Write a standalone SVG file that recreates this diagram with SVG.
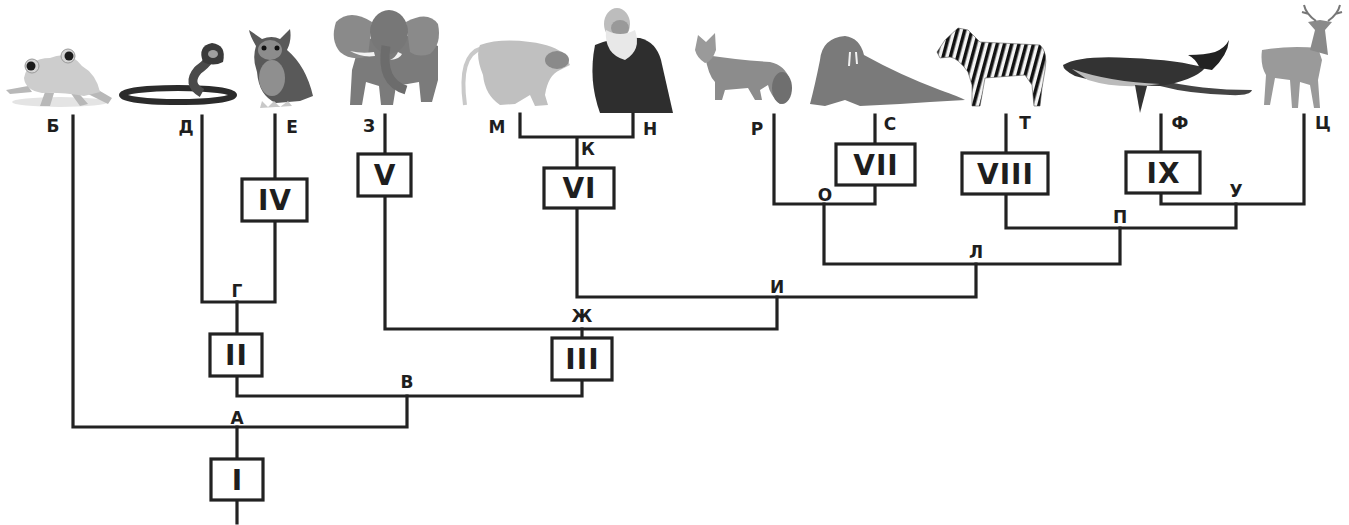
<svg xmlns="http://www.w3.org/2000/svg" width="1349" height="525" viewBox="0 0 1349 525">
<defs>
<style>
.ln{fill:none;stroke:#222;stroke-width:3.2;stroke-linecap:square;stroke-linejoin:miter}
.bx{fill:#fff;stroke:#222;stroke-width:3.2}
.num{font-family:"DejaVu Sans","Liberation Sans",sans-serif;font-weight:bold;font-size:28px;letter-spacing:1px;fill:#1e1e1e;text-anchor:middle}
.lbl{font-family:"DejaVu Sans","Liberation Sans",sans-serif;font-weight:bold;font-size:17px;fill:#1e1e1e;text-anchor:middle}
</style>
<pattern id="stripes" width="7" height="10" patternUnits="userSpaceOnUse" patternTransform="rotate(15)">
<rect width="7" height="10" fill="#f4f4f4"/>
<rect width="3.5" height="10" fill="#111"/>
</pattern>
</defs>
<rect width="1349" height="525" fill="#fff"/>

<g id="animals">
<g id="frog">
<ellipse cx="60" cy="102" rx="48" ry="5" fill="#e4e4e4"/>
<path d="M28 86 L6 90 L10 94 L32 92 Z M88 84 L112 98 L108 104 L84 92 Z M45 92 L40 106 L50 106 L54 93 Z M70 92 L80 106 L88 104 L76 90 Z" fill="#b8b8b8"/>
<path d="M24 78 Q28 58 50 58 Q70 50 82 66 Q96 74 100 92 L84 96 Q60 92 42 93 Q25 90 24 78 Z" fill="#cdcdcd"/>
<circle cx="32" cy="66" r="7" fill="#d6d6d6" stroke="#999" stroke-width="1"/>
<circle cx="31" cy="66" r="4.5" fill="#1c1c1c"/>
<circle cx="68" cy="56" r="7" fill="#d6d6d6" stroke="#999" stroke-width="1"/>
<circle cx="69" cy="56" r="4.5" fill="#1c1c1c"/>
</g>
<g id="snake">
<ellipse cx="178" cy="95" rx="56" ry="7" fill="none" stroke="#2b2b2b" stroke-width="6"/>
<path d="M202 93 Q186 84 198 70 Q212 60 211 52" fill="none" stroke="#4a4a4a" stroke-width="9"/>
<path d="M203 62 Q197 46 212 43 Q227 45 223 62 Q213 67 203 62 Z" fill="#3a3a3a"/>
<ellipse cx="213" cy="54" rx="5" ry="4" fill="#a0a0a0"/>
</g>
<g id="owl">
<path d="M256 46 Q250 36 249 30 L262 39 Q272 35 280 39 L290 29 Q292 40 287 50 Q306 66 313 96 L300 101 L276 103 Q259 96 257 72 Q252 58 256 46 Z" fill="#595959"/>
<ellipse cx="270" cy="50" rx="12" ry="10" fill="#8c8c8c"/>
<circle cx="264" cy="48" r="2.5" fill="#111"/>
<circle cx="277" cy="48" r="2.5" fill="#111"/>
<ellipse cx="272" cy="78" rx="13" ry="18" fill="#8f8f8f"/>
<path d="M262 101 L268 107 L274 101 L280 107 L288 101 L292 106 L260 108 Z" fill="#c8c8c8"/>
</g>
<g id="elephant">
<path d="M360 42 Q400 26 438 46 L438 80 L432 102 L421 102 L419 82 L396 86 L393 105 L381 105 L379 86 L366 82 L362 105 L350 105 L352 70 Z" fill="#7b7b7b"/>
<path d="M372 22 Q350 8 336 22 Q330 40 340 52 Q352 62 368 56 Z" fill="#8a8a8a"/>
<path d="M406 22 Q428 10 438 24 Q442 44 430 54 Q418 58 410 52 Z" fill="#8a8a8a"/>
<ellipse cx="389" cy="32" rx="19" ry="22" fill="#777"/>
<path d="M386 46 Q380 82 406 90" fill="none" stroke="#6c6c6c" stroke-width="9"/>
<path d="M374 52 Q362 54 350 51 Q362 58 375 56 Z M398 52 Q396 57 390 60 Q400 59 402 54 Z" fill="#f2f2f2"/>
</g>
<g id="monkey">
<path d="M482 48 Q458 55 465 105" fill="none" stroke="#c9c9c9" stroke-width="4"/>
<path d="M480 45 Q500 38 530 42 Q555 45 565 55 L570 65 L560 70 Q548 75 545 95 L548 105 L535 106 L530 95 L515 104 L500 105 Q485 95 483 75 Q475 55 480 45 Z" fill="#c0c0c0"/>
<ellipse cx="557" cy="60" rx="12" ry="9" fill="#8a8a8a"/>
</g>
<g id="darwin">
<path d="M595 45 Q615 36 640 38 Q656 42 661 60 L673 113 L600 113 Q588 80 595 45 Z" fill="#2e2e2e"/>
<ellipse cx="617" cy="24" rx="13" ry="16" fill="#bdbdbd"/>
<ellipse cx="620" cy="28" rx="9" ry="8" fill="#999"/>
<path d="M606 30 Q604 54 625 60 Q642 50 635 30 Q620 38 606 30 Z" fill="#e8e8e8"/>
</g>
<g id="fox">
<path d="M705 55 Q740 60 770 62 Q785 65 790 80 Q792 100 780 104 Q770 95 768 85 L760 90 L762 100 L755 100 L748 88 L725 90 L722 100 L715 100 L715 82 Q708 75 705 55 Z" fill="#8c8c8c"/>
<path d="M695 50 L698 35 L706 42 L715 33 L716 50 Q712 62 705 63 Q697 58 695 50 Z" fill="#9a9a9a"/>
<ellipse cx="782" cy="88" rx="10" ry="16" fill="#6f6f6f"/>
</g>
<g id="walrus">
<path d="M820 60 Q822 38 845 36 Q860 38 864 55 Q900 75 940 90 Q960 97 965 100 L930 102 L900 104 L860 106 L845 100 L825 106 L810 104 Q815 85 820 60 Z" fill="#7a7a7a"/>
<path d="M850 52 L849 66 M856 52 L857 64" stroke="#f2f2f2" stroke-width="2"/>
</g>
<g id="zebra">
<path d="M937 52 L945 40 L958 28 L968 30 L980 42 L1040 45 Q1048 52 1045 70 L1042 88 L1040 106 L1034 106 L1032 85 L1025 75 L985 78 L982 95 L980 106 L972 106 L972 85 L968 72 Q958 58 950 57 L940 58 Z" fill="url(#stripes)" stroke="#555" stroke-width="0.6"/>
</g>
<g id="whale">
<path d="M1160 80 Q1200 90 1252 90 Q1250 96 1230 95 Q1190 94 1160 86 Z" fill="#444"/>
<path d="M1063 65 Q1080 55 1130 58 Q1180 60 1205 68 Q1195 80 1160 86 Q1110 86 1075 76 Q1063 70 1063 65 Z" fill="#333"/>
<path d="M1072 69 Q1110 82 1160 84 Q1120 90 1088 80 Z" fill="#bbb"/>
<path d="M1135 85 L1140 113 L1147 86 Z" fill="#333"/>
<path d="M1200 68 Q1195 58 1188 55 Q1205 55 1215 52 Q1225 48 1229 40 Q1228 55 1212 70 Z" fill="#222"/>
</g>
<g id="deer">
<path d="M1262 50 Q1290 45 1318 48 L1322 60 L1318 80 L1320 108 L1314 108 L1310 85 L1300 82 L1298 108 L1292 108 L1290 80 L1275 78 L1270 105 L1264 105 L1266 75 Q1260 65 1262 50 Z" fill="#9a9a9a"/>
<path d="M1310 50 L1315 30 L1308 22 L1320 20 L1332 22 L1325 30 L1328 55 Z" fill="#8a8a8a"/>
<path d="M1316 21 Q1306 14 1304 5 M1309 14 L1302 12 M1328 21 Q1338 14 1340 5 M1335 14 L1342 12" fill="none" stroke="#777" stroke-width="2"/>
</g>
</g>

<g id="connectors">
<path class="ln" d="M73 116 V427 H407 V396"/>
<path class="ln" d="M237 427 V459 M237 500 V523"/>
<path class="ln" d="M237 376 V396 H582 V380"/>
<path class="ln" d="M237 334 V302"/>
<path class="ln" d="M202 116 V302 H275 V221 M275 179 V115"/>
<path class="ln" d="M582 338 V329"/>
<path class="ln" d="M385 115 V154 M385 196 V329 H777 V297"/>
<path class="ln" d="M577 208 V297 H976 V264"/>
<path class="ln" d="M577 168 V137 M520 114 V137 H633 V114"/>
<path class="ln" d="M824 204 V264 H1120 V228"/>
<path class="ln" d="M774 115 V204 H875 V185 M875 144 V115"/>
<path class="ln" d="M1006 153 V115 M1006 194 V228 H1236 V204"/>
<path class="ln" d="M1161 152 V115 M1161 193 V204 H1304 V115"/>
</g>

<g id="node-I"><rect class="bx" x="211" y="459" width="52" height="41"/><text class="num" x="237.5" y="490">I</text></g>
<g id="node-II"><rect class="bx" x="210" y="334" width="52" height="42"/><text class="num" x="236.5" y="365">II</text></g>
<g id="node-III"><rect class="bx" x="552" y="338" width="60" height="42"/><text class="num" x="582.5" y="369">III</text></g>
<g id="node-IV"><rect class="bx" x="242" y="179" width="65" height="42"/><text class="num" x="275" y="210">IV</text></g>
<g id="node-V"><rect class="bx" x="358" y="154" width="53" height="42"/><text class="num" x="385" y="185">V</text></g>
<g id="node-VI"><rect class="bx" x="544" y="168" width="70" height="40"/><text class="num" x="579.5" y="198">VI</text></g>
<g id="node-VII"><rect class="bx" x="836" y="144" width="79" height="41"/><text class="num" x="876" y="174.5">VII</text></g>
<g id="node-VIII"><rect class="bx" x="962" y="153" width="86" height="41"/><text class="num" x="1005.5" y="183.5">VIII</text></g>
<g id="node-IX"><rect class="bx" x="1126" y="152" width="74" height="41"/><text class="num" x="1163.5" y="182.5">IX</text></g>

<g id="labels">
<text class="lbl" x="53" y="132">Б</text>
<text class="lbl" x="186" y="133">Д</text>
<text class="lbl" x="292" y="133">Е</text>
<text class="lbl" x="369" y="132">З</text>
<text class="lbl" x="497" y="133">М</text>
<text class="lbl" x="650" y="135">Н</text>
<text class="lbl" x="588" y="155">К</text>
<text class="lbl" x="757" y="135">Р</text>
<text class="lbl" x="890" y="130">С</text>
<text class="lbl" x="1025" y="129">Т</text>
<text class="lbl" x="1180" y="129">Ф</text>
<text class="lbl" x="1323" y="129">Ц</text>
<text class="lbl" x="237" y="297">Г</text>
<text class="lbl" x="407" y="388">В</text>
<text class="lbl" x="237" y="424">А</text>
<text class="lbl" x="582" y="322">Ж</text>
<text class="lbl" x="777" y="293">И</text>
<text class="lbl" x="825" y="201">О</text>
<text class="lbl" x="976" y="258">Л</text>
<text class="lbl" x="1120" y="223">П</text>
<text class="lbl" x="1236" y="197">У</text>
</g>
</svg>
